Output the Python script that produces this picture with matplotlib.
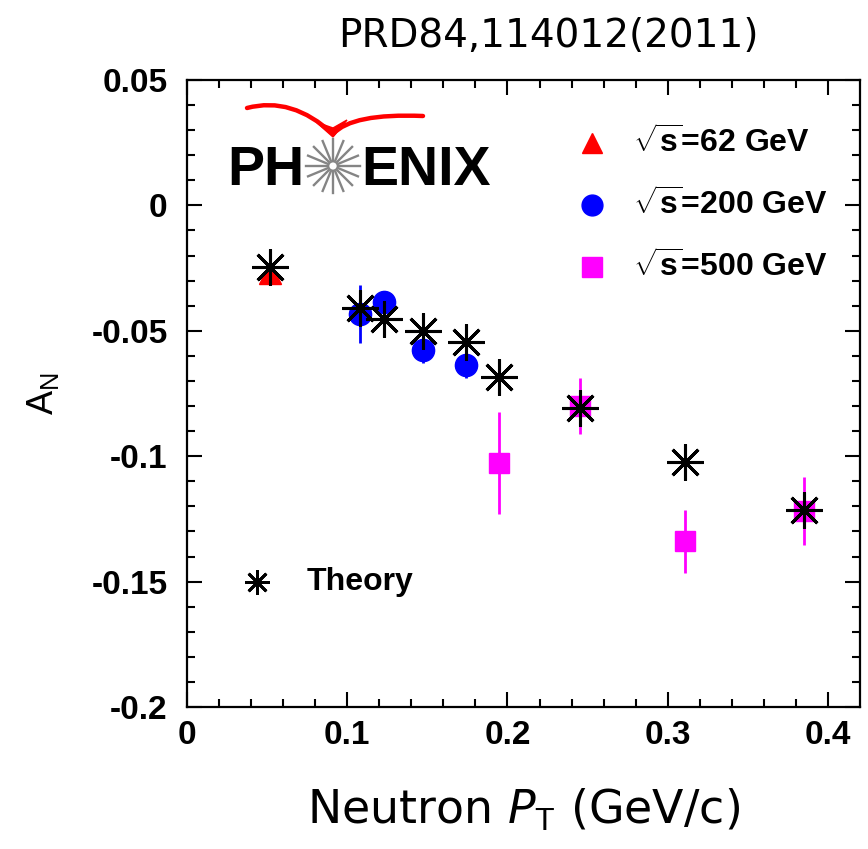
import numpy as np
import matplotlib
matplotlib.use("Agg")
import matplotlib.pyplot as plt
from matplotlib.path import Path
from matplotlib.patches import PathPatch, Circle

plt.rcParams['font.family'] = ['Liberation Sans', 'DejaVu Sans']
plt.rcParams['mathtext.fontset'] = 'custom'
plt.rcParams['mathtext.rm'] = 'Liberation Sans'
plt.rcParams['mathtext.bf'] = 'Liberation Sans:bold'

# --------------------------
# Data
# --------------------------
pt_62 = [0.052]
an_62 = [-0.027]

pt_200 = [0.108, 0.123, 0.147, 0.174]
an_200 = [-0.0434, -0.0386, -0.0577, -0.0637]
err_200 = [0.0115, 0.003, 0.005, 0.005]

pt_500 = [0.195, 0.245, 0.311, 0.385]
an_500 = [-0.1027, -0.0800, -0.1340, -0.1220]
err_500 = [0.0205, 0.0110, 0.0124, 0.0136]

pt_theory = [0.052, 0.108, 0.123, 0.147, 0.174, 0.195, 0.245, 0.311, 0.385]
an_theory = [-0.0246, -0.0409, -0.0453, -0.0501, -0.0545, -0.0685, -0.0809, -0.1024, -0.1215]

series_labels = [r'$\sqrt{\mathbf{s}}$=62 GeV',
                 r'$\sqrt{\mathbf{s}}$=200 GeV',
                 r'$\sqrt{\mathbf{s}}$=500 GeV']

# --------------------------
# Plot
# --------------------------
W, H = 868, 849
fig = plt.figure(figsize=(W / 100, H / 100), dpi=100)
ax = fig.add_axes([187 / W, 1 - 707 / H, 673 / W, 627 / H])

ax.plot(pt_62, an_62, '^', color='red', ms=16, zorder=3)
ax.errorbar(pt_200, an_200, yerr=err_200, fmt='o', color='blue', ms=16,
            elinewidth=2, capsize=0, zorder=3)
ax.errorbar(pt_500, an_500, yerr=err_500, fmt='s', color='magenta', ms=15,
            elinewidth=2, capsize=0, zorder=3)
ax.plot(pt_theory, an_theory, linestyle='none', marker=(8, 2, 0), ms=26,
        mew=2.2, color='black', zorder=4)

ax.set_xlim(0, 0.42)
ax.set_ylim(-0.2, 0.05)
ax.set_xticks([0, 0.1, 0.2, 0.3, 0.4])
ax.set_xticklabels(['0', '0.1', '0.2', '0.3', '0.4'])
ax.set_yticks([0.05, 0, -0.05, -0.1, -0.15, -0.2])
ax.set_yticklabels(['0.05', '0', '-0.05', '-0.1', '-0.15', '-0.2'])
ax.set_xticks(np.arange(0, 0.42, 0.02), minor=True)
ax.set_yticks(np.arange(-0.2, 0.05, 0.01), minor=True)
ax.tick_params(which='both', direction='in', top=True, right=True,
               width=1.5, labelsize=24)
ax.tick_params(which='major', length=11)
ax.tick_params(which='minor', length=6)
ax.tick_params(axis='y', pad=14)
ax.tick_params(axis='x', pad=9)
for lab in ax.get_xticklabels() + ax.get_yticklabels():
    lab.set_fontweight('bold')
for sp in ax.spines.values():
    sp.set_linewidth(1.6)

ax.set_xlabel(r'Neutron $P_{\mathrm{T}}$ (GeV/c)', family='DejaVu Sans',
              fontsize=33, labelpad=26)
ax.set_ylabel(r'A$_{\mathrm{N}}$', fontsize=26, labelpad=22)
fig.text(548 / W, 1 - 36 / H, 'PRD84,114012(2011)', family='DejaVu Sans',
         fontsize=28, ha='center', va='center')

# legend entries
def ax_px(px, py):
    return ((px - 187) / 673, (707 - py) / 627)

markers = [('^', 'red'), ('o', 'blue'), ('s', 'magenta')]
rows_y = [143, 205, 267]
for (m, c), lab, py in zip(markers, series_labels, rows_y):
    mx, my = ax_px(592, py)
    ax.plot([mx], [my], marker=m, color=c, ms=15, transform=ax.transAxes,
            clip_on=False, zorder=5)
    tx, ty = ax_px(633, py)
    ax.text(tx, ty, lab, transform=ax.transAxes, fontsize=23,
            fontweight='bold', va='center', ha='left')

mx, my = ax_px(257, 582)
ax.plot([mx], [my], marker=(8, 2, 0), ms=18, mew=2, color='black',
        transform=ax.transAxes)
tx, ty = ax_px(307, 582)
ax.text(tx, ty, 'Theory', transform=ax.transAxes, fontsize=23,
        fontweight='bold', va='center', ha='left')

# PHENIX logo, in figure pixels
def fpx(px, py):
    return (px / W, 1 - py / H)

fig.text(*fpx(227, 185), 'PH', fontsize=40, fontweight='bold',
         ha='left', va='baseline')
fig.text(*fpx(361, 185), 'ENIX', fontsize=40, fontweight='bold',
         ha='left', va='baseline')

cx, cy = 333, 166
for ang in np.arange(0, 360, 22.5):
    a = np.deg2rad(ang)
    x0, y0 = cx + 6 * np.cos(a), cy + 6 * np.sin(a)
    x1, y1 = cx + 27 * np.cos(a), cy + 27 * np.sin(a)
    fig.add_artist(plt.Line2D([x0 / W, x1 / W], [1 - y0 / H, 1 - y1 / H],
                              color='#858585', lw=1.7,
                              transform=fig.transFigure))
fig.add_artist(Circle(fpx(cx, cy), 4.5 / W, transform=fig.transFigure,
                      facecolor='white', edgecolor='#858585', lw=1.2))

# red swoosh over the logo
left_wing = Path([fpx(247, 108), fpx(292, 96), fpx(333, 134)],
                 [Path.MOVETO, Path.CURVE3, Path.CURVE3])
right_wing = Path([fpx(333, 134), fpx(352, 113), fpx(423, 116)],
                  [Path.MOVETO, Path.CURVE3, Path.CURVE3])
for p in (left_wing, right_wing):
    fig.add_artist(PathPatch(p, facecolor='none', edgecolor='red', lw=3.2,
                             transform=fig.transFigure, capstyle='round'))
tip = [fpx(316, 122), fpx(333, 137), fpx(347, 120), fpx(333, 128)]
fig.add_artist(plt.Polygon(tip, closed=True, color='red',
                           transform=fig.transFigure))

fig.savefig('out.png', dpi=100)
